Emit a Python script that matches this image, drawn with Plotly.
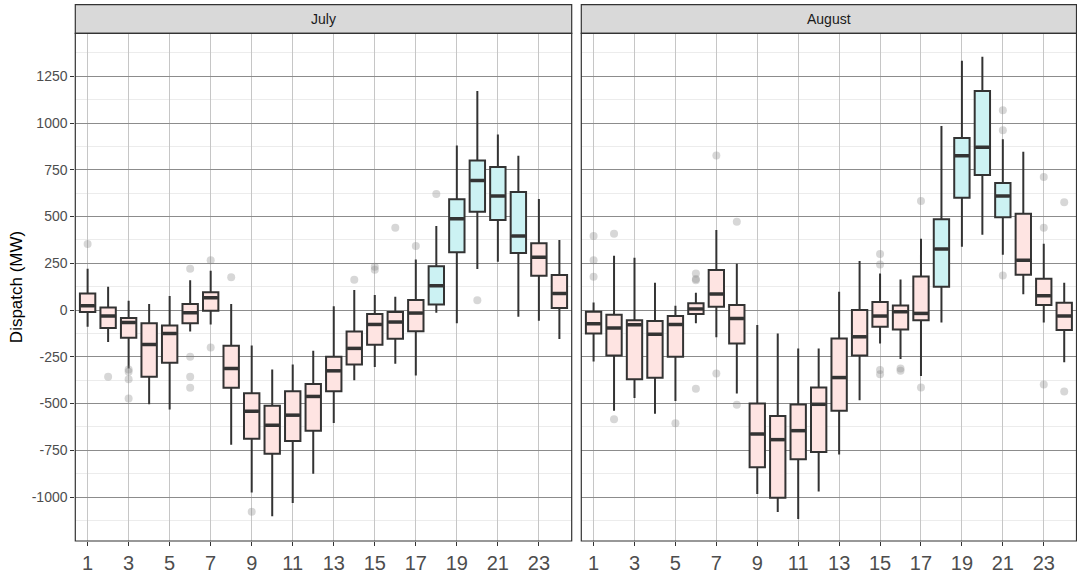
import plotly.graph_objects as go

W, H = 1077, 578

hours = list(range(1, 25))
months = ["July", "August"]

# July statistics (MW)
jul_q1 = [-11, -96, -148, -357, -282, -71, -4, -416, -688, -768, -700, -646,
          -434, -291, -186, -154, -113, 30, 309, 526, 481, 305, 184, 11]
jul_med = [23, -32, -66, -184, -125, -14, 66, -312, -541, -616, -562, -462,
           -325, -205, -77, -64, -16, 130, 488, 693, 610, 396, 283, 89]
jul_q3 = [89, 14, -43, -71, -82, 32, 95, -191, -445, -512, -434, -396,
          -250, -114, -21, -11, 54, 234, 592, 800, 765, 631, 357, 187]
jul_lo = [-89, -171, -312, -504, -532, -114, -77, -720, -975, -1102, -1032, -875,
          -604, -375, -304, -287, -350, -14, -71, 219, 258, -36, -57, -155]
jul_hi = [221, 125, 50, 32, 75, 160, 210, 32, -189, -318, -291, -218,
          21, 107, 80, 71, 271, 449, 880, 1171, 939, 825, 594, 374]
jul_out_h = [1, 2, 3, 3, 3, 3, 6, 6, 6, 6, 7, 7, 8, 9, 14, 15, 15, 16, 17, 18, 20]
jul_out_v = [353, -357, -318, -330, -370, -473, 221, -250, -357, -416, 266, -200,
             175, -1079, 162, 232, 216, 440, 342, 620, 52]
jul_grp = ["lo"] * 17 + ["hi"] * 5 + ["lo"] * 2

# August statistics (MW)
aug_q1 = [-125, -243, -370, -362, -250, -21, 18, -179, -841, -1004, -798, -759,
          -539, -243, -89, -104, -55, 125, 600, 722, 496, 189, 27, -107]
aug_med = [-73, -96, -79, -129, -77, 5, 86, -45, -663, -693, -645, -504,
           -361, -143, -32, -9, -18, 326, 825, 870, 610, 266, 77, -32]
aug_q3 = [-9, -25, -55, -59, -32, 36, 214, 27, -500, -566, -505, -414,
          -152, 0, 43, 25, 180, 485, 920, 1171, 679, 515, 168, 39]
aug_lo = [-275, -539, -470, -554, -486, -71, -146, -446, -984, -1080, -1118, -970,
          -773, -482, -179, -262, -352, -66, 339, 403, 296, 84, -66, -279]
aug_hi = [41, 290, 280, 146, 23, 93, 428, 248, -80, -125, -205, -205,
          98, 262, 196, 164, 381, 984, 1333, 1355, 913, 847, 355, 146]
aug_out_h = [1, 1, 1, 2, 2, 5, 6, 6, 6, 6, 7, 7, 8, 8, 15, 15, 15, 15, 16, 16,
             17, 17, 21, 21, 21, 23, 23, 23, 24, 24]
aug_out_v = [396, 267, 178, 408, -584, -605, 196, 166, 160, -421, 827, -339, 472, -507,
             300, 244, -321, -343, -312, -325, 583, -414, 1068, 961, 185, 711, 440, -398,
             576, -436]
aug_grp = ["lo"] * 17 + ["hi"] * 4 + ["lo"] * 3

y_ticks = [-1000, -750, -500, -250, 0, 250, 500, 750, 1000, 1250]
y_labels = ["-1000", "-750", "-500", "-250", "0", "250", "500", "750", "1000", "1250"]
x_ticks = list(range(1, 24, 2))

fills = {"lo": "#FEE4E2", "hi": "#CCF2F3"}
edge = "#333333"
BW = 0.75
FONT = "Liberation Sans, Arial, sans-serif"

data = {
    "July": (jul_q1, jul_med, jul_q3, jul_lo, jul_hi, jul_out_h, jul_out_v, jul_grp),
    "August": (aug_q1, aug_med, aug_q3, aug_lo, aug_hi, aug_out_h, aug_out_v, aug_grp),
}

fig = go.Figure()
for i, m in enumerate(months):
    xa = "x" if i == 0 else "x2"
    ya = "y" if i == 0 else "y2"
    q1, med, q3, lo, hi, oh, ov, grp = data[m]
    fig.add_trace(go.Scatter(x=oh, y=ov, mode="markers", xaxis=xa, yaxis=ya,
                             marker=dict(size=8, color="rgba(130,130,130,0.32)",
                                         line=dict(width=0)),
                             showlegend=False, hoverinfo="skip"))
    for g in ["lo", "hi"]:
        idx = [k for k in range(24) if grp[k] == g]
        fig.add_trace(go.Box(
            x=[hours[k] for k in idx],
            q1=[q1[k] for k in idx], median=[med[k] for k in idx],
            q3=[q3[k] for k in idx], lowerfence=[lo[k] for k in idx],
            upperfence=[hi[k] for k in idx],
            width=BW, whiskerwidth=0, boxpoints=False,
            fillcolor=fills[g], line=dict(color=edge, width=2),
            xaxis=xa, yaxis=ya, showlegend=False, hoverinfo="skip"))
    mx, my = [], []
    for k in range(24):
        mx += [hours[k] - BW / 2 + 0.03, hours[k] + BW / 2 - 0.03, None]
        my += [med[k], med[k], None]
    fig.add_trace(go.Scatter(x=mx, y=my, mode="lines", xaxis=xa, yaxis=ya,
                             line=dict(color=edge, width=3.5),
                             showlegend=False, hoverinfo="skip"))

doms = [[75.3 / W, 571.7 / W], [581.3 / W, 1076.5 / W]]
ydom = [1 - 541 / H, 1 - 33.3 / H]
strip_top = 1 - 4.7 / H

xcommon = dict(range=[0.4, 24.6], tickmode="array", tickvals=x_ticks,
               ticktext=[str(v) for v in x_ticks], showgrid=True,
               gridcolor="#c6c6c6", gridwidth=1, zeroline=False,
               ticks="outside", ticklen=4, tickcolor="#333333", tickwidth=1.2,
               tickfont=dict(family=FONT, size=20, color="#4d4d4d"),
               showline=False, automargin=False)
ycommon = dict(range=[-1235, 1480], tickmode="array", tickvals=y_ticks,
               ticktext=y_labels,
               showgrid=True, gridcolor="#8c8c8c", gridwidth=1, zeroline=False,
               minor=dict(tickvals=[v + 125 for v in y_ticks] + [-1125],
                          showgrid=True, gridcolor="#ececec", gridwidth=1),
               showline=False, automargin=False, domain=ydom)

fig.update_layout(
    width=W, height=H, margin=dict(l=0, r=0, t=0, b=0),
    paper_bgcolor="white", plot_bgcolor="white",
    xaxis=dict(domain=doms[0], anchor="y", **xcommon),
    xaxis2=dict(domain=doms[1], anchor="y2", **xcommon),
    yaxis=dict(anchor="x", ticks="outside", ticklen=4, tickcolor="#333333",
               tickwidth=1.2,
               tickfont=dict(family=FONT, size=14, color="#4d4d4d"),
               **ycommon),
    yaxis2=dict(anchor="x2", showticklabels=False, ticks="", matches="y", **ycommon),
    showlegend=False,
)

shapes = []
annotations = []
for i, m in enumerate(months):
    d = doms[i]
    shapes.append(dict(type="rect", xref="paper", yref="paper", x0=d[0], x1=d[1],
                       y0=ydom[1], y1=strip_top, fillcolor="#d9d9d9",
                       line=dict(color="#333333", width=1.2), layer="above"))
    shapes.append(dict(type="rect", xref="paper", yref="paper", x0=d[0], x1=d[1],
                       y0=ydom[0], y1=ydom[1], fillcolor="rgba(0,0,0,0)",
                       line=dict(color="#333333", width=1.2), layer="above"))
    annotations.append(dict(text=m, xref="paper", yref="paper", x=(d[0] + d[1]) / 2,
                            y=(ydom[1] + strip_top) / 2, showarrow=False,
                            xanchor="center", yanchor="middle",
                            font=dict(family=FONT, size=14, color="#1a1a1a")))
annotations.append(dict(text="Dispatch (MW)", xref="paper", yref="paper",
                        x=16 / W, y=(ydom[0] + ydom[1]) / 2, textangle=-90,
                        showarrow=False, xanchor="center", yanchor="middle",
                        font=dict(family=FONT, size=17, color="#000000")))
fig.update_layout(shapes=shapes, annotations=annotations)

fig.write_html("out.html", config={"displayModeBar": False},
               post_script="document.body.style.margin='0px';document.body.style.padding='0px';")
